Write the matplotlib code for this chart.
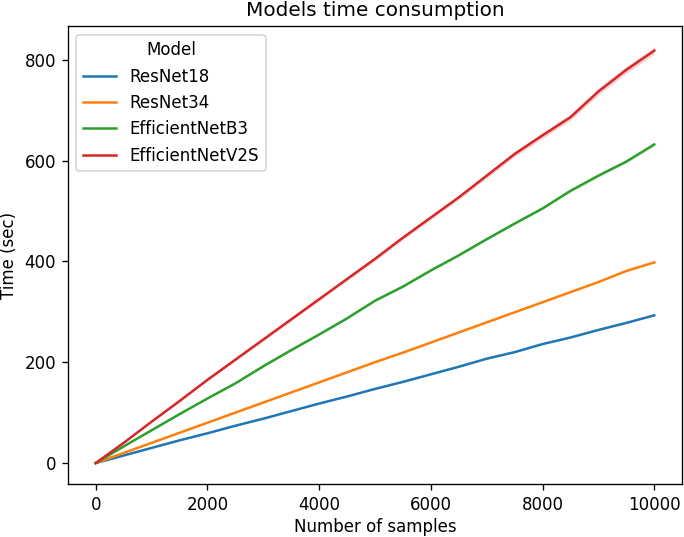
import matplotlib
matplotlib.use("Agg")
import matplotlib.pyplot as plt

samples = [0, 500, 1000, 1500, 2000, 2500, 3000, 3500, 4000, 4500, 5000,
           5500, 6000, 6500, 7000, 7500, 8000, 8500, 9000, 9500, 10000]

models = ["ResNet18", "ResNet34", "EfficientNetB3", "EfficientNetV2S"]

resnet18 = [0, 15, 30, 45, 59, 74, 88, 103, 118, 132, 147,
            161, 176, 191, 207, 220, 236, 249, 264, 278, 293]
resnet34 = [0, 20, 40, 60, 80, 100, 120, 140, 160, 180, 200,
            219, 239, 259, 279, 299, 319, 339, 359, 381, 398]
effnet_b3 = [0, 33, 65, 97, 128, 158, 192, 224, 255, 287, 322,
             350, 382, 412, 444, 475, 505, 540, 570, 598, 632]
effnet_v2s = [0, 40, 82, 123, 165, 205, 245, 285, 325, 365, 405,
              447, 487, 527, 570, 613, 650, 686, 737, 780, 818]

# half width of the confidence band
resnet18_err = [0, 1, 1, 1, 1, 1, 1, 1, 1, 1, 1, 1, 1, 1, 1, 1, 1, 1, 1, 1, 1]
resnet34_err = [0, 1, 1, 1, 1, 1, 1, 1, 1, 1, 1, 1, 1, 1, 1, 1, 1, 1, 1, 1, 1]
effnet_b3_err = [0, 1, 1, 1, 1, 1, 2, 2, 2, 2, 2, 2, 2, 2, 2, 2, 2, 3, 3, 3, 3]
effnet_v2s_err = [0, 1, 1, 2, 2, 2, 3, 3, 3, 3, 4, 4, 4, 4, 5, 5, 6, 6, 7, 7, 7]

series = [resnet18, resnet34, effnet_b3, effnet_v2s]
errors = [resnet18_err, resnet34_err, effnet_b3_err, effnet_v2s_err]
colors = ["#1f77b4", "#ff7f0e", "#2ca02c", "#d62728"]

fig, ax = plt.subplots(figsize=(5.708, 4.475), dpi=120)
fig.subplots_adjust(left=0.099, right=0.996, bottom=0.099, top=0.951)

for name, vals, err, c in zip(models, series, errors, colors):
    lo = [v - e for v, e in zip(vals, err)]
    hi = [v + e for v, e in zip(vals, err)]
    ax.fill_between(samples, lo, hi, color=c, alpha=0.2, linewidth=0)
    ax.plot(samples, vals, color=c, linewidth=1.5, label=name)

ax.set_xlabel("Number of samples", labelpad=2.5)
ax.set_ylabel("Time (sec)")
ax.set_title("Models time consumption")
ax.set_xticks([0, 2000, 4000, 6000, 8000, 10000])
ax.set_yticks([0, 200, 400, 600, 800])
ax.legend(title="Model", loc="upper left")

fig.savefig("out.png")
